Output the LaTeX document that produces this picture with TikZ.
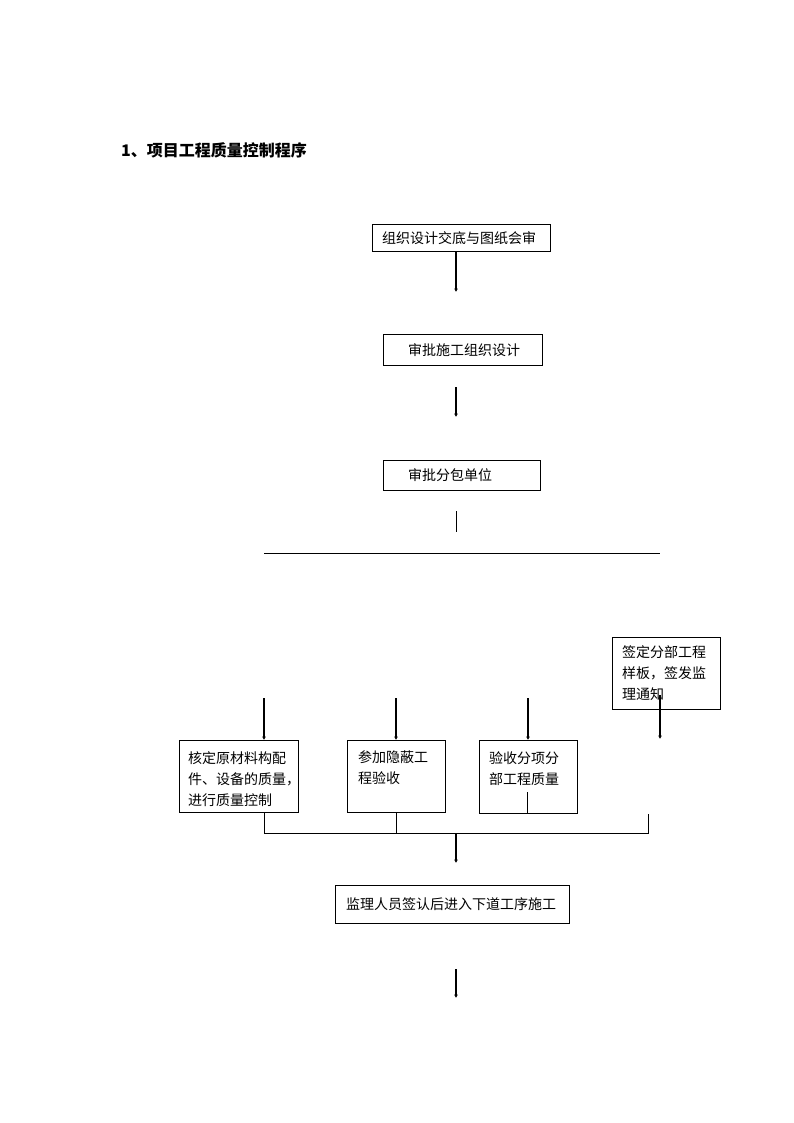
\documentclass[tikz,border=0pt]{standalone}
\usepackage{fontspec}
\setmainfont{Noto Sans CJK SC}
\usetikzlibrary{arrows.meta}
\begin{document}
\begin{tikzpicture}[x=1pt,y=-1pt,
  box/.style={draw, line width=0.8pt, inner sep=0pt, anchor=north west},
  txt/.style={inner sep=0pt, anchor=west, align=left, font=\fontsize{14}{21}\selectfont},
  mtxt/.style={inner sep=0pt, anchor=north west, align=left, font=\fontsize{14}{21}\selectfont},
  arr/.style={line width=1.5pt, -{Latex[length=3.5pt,width=4pt]}},
  ln/.style={line width=0.8pt}]
\useasboundingbox (0,0) rectangle (794,1123);
% title
\node[anchor=west, inner sep=0pt, font=\fontsize{16}{16}\selectfont\bfseries] (title) at (121,150) {1、项目工程质量控制程序};
% boxes
\node[box, minimum width=178, minimum height=27] (b1) at (372,224) {};
\node[txt] (t1) at (382,238) {组织设计交底与图纸会审};
\node[box, minimum width=159, minimum height=31] (b2) at (383,334) {};
\node[txt] (t2) at (408,350) {审批施工组织设计};
\node[box, minimum width=157, minimum height=30] (b3) at (383,460) {};
\node[txt] (t3) at (408,475) {审批分包单位};
\node[box, minimum width=108, minimum height=72] (bE) at (612,637) {};
\node[mtxt] (tE) at (622,645) {签定分部工程\\样板，签发监\\理通知};
\node[box, minimum width=119, minimum height=72] (bA) at (179,740) {};
\node[mtxt] (tA) at (188,751) {核定原材料构配\\件、设备的质量，\\进行质量控制};
\node[box, minimum width=98, minimum height=72] (bB) at (347,740) {};
\node[mtxt] (tB) at (358,750) {参加隐蔽工\\程验收};
\node[box, minimum width=98, minimum height=73] (bC) at (479,740) {};
\node[mtxt] (tC) at (489,751) {验收分项分\\部工程质量};
\node[box, minimum width=234, minimum height=38] (bD) at (335,885) {};
\node[txt] (tD) at (346,904) {监理人员签认后进入下道工序施工};
% coordinates
\coordinate (a1) at (456,292);
\coordinate (a2s) at (456,387);
\coordinate (a2e) at (456,417);
\coordinate (l3s) at (456,511);
\coordinate (l3e) at (456,532);
\coordinate (hL) at (264,553);
\coordinate (hR) at (660,553);
\coordinate (pA) at (264,698);
\coordinate (pB) at (396,698);
\coordinate (pC) at (528,698);
\coordinate (eS) at (660,695);
\coordinate (eE) at (660,739);
\coordinate (j1) at (264,833);
\coordinate (j2) at (396,833);
\coordinate (j4) at (648,833);
\coordinate (cI) at (527,792);
\coordinate (j3) at (456,833);
\coordinate (a5) at (456,863);
\coordinate (a6s) at (456,969);
\coordinate (a6e) at (456,998);
% connectors
\draw[arr] (a1 |- b1.south) -- (a1);
\draw[arr] (a2s) -- (a2e);
\draw[ln] (l3s) -- (l3e);
\draw[ln] (hL) -- (hR);
\draw[arr] (pA) -- (pA |- bA.north);
\draw[arr] (pB) -- (pB |- bB.north);
\draw[arr] (pC) -- (pC |- bC.north);
\draw[arr] (eS) -- (eE);
\draw[ln] (j1 |- bA.south) -- (j1) -- (j4) -- (j4 |- bC.south);
\draw[ln] (j2 |- bB.south) -- (j2);
\draw[ln] (cI) -- (cI |- bC.south);
\draw[arr] (j3) -- (a5);
\draw[arr] (a6s) -- (a6e);
\end{tikzpicture}
\end{document}
